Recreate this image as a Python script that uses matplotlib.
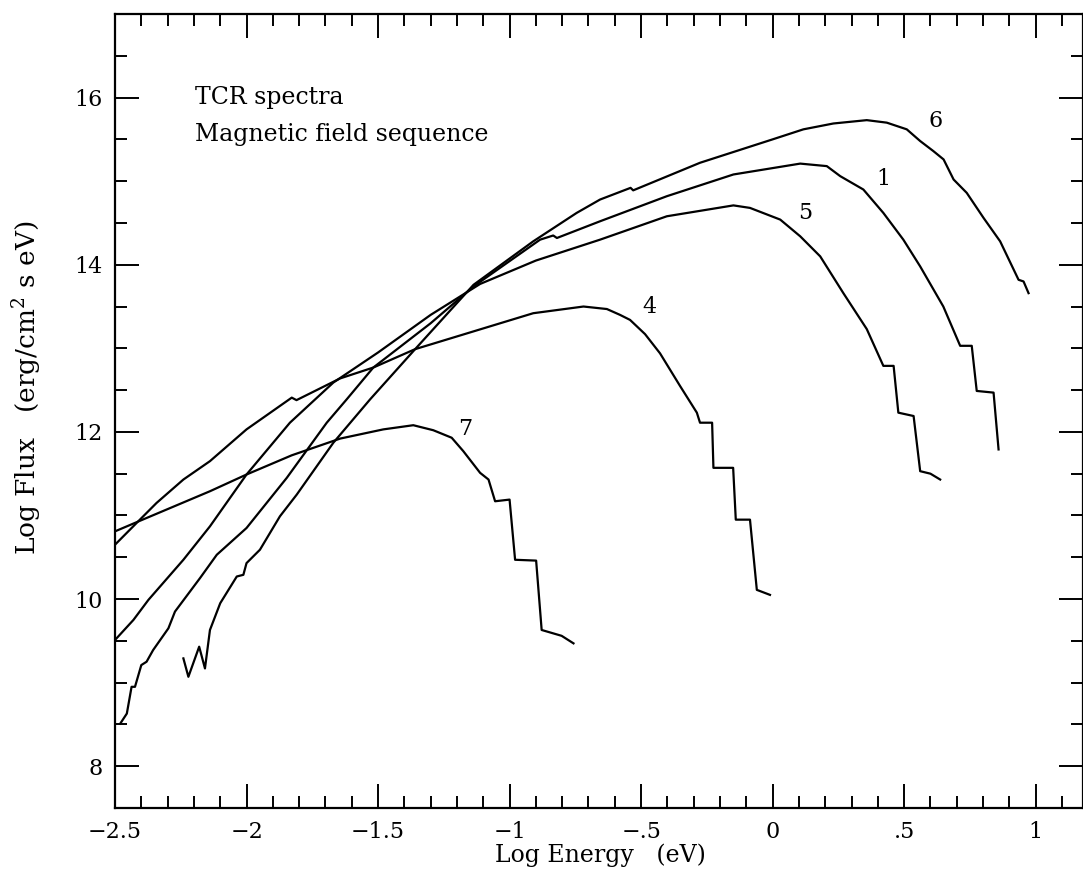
import numpy as np
import matplotlib
matplotlib.use("Agg")
import matplotlib.pyplot as plt
from matplotlib.ticker import MultipleLocator

plt.rcParams['font.family'] = ['DejaVu Serif']
plt.rcParams['mathtext.fontset'] = 'dejavuserif'

# curve 7
x7 = [-2.5, -2.41, -2.139, -2.0, -1.828, -1.644, -1.48, -1.366, -1.29, -1.22, -1.176,
      -1.112, -1.08, -1.055, -1.0, -0.979, -0.899, -0.878, -0.802, -0.757]
y7 = [10.81, 10.93, 11.29, 11.49, 11.72, 11.92, 12.03, 12.08, 12.02, 11.93, 11.77,
      11.51, 11.43, 11.17, 11.19, 10.47, 10.46, 9.63, 9.56, 9.47]

# curve 4
x4 = [-2.5, -2.418, -2.342, -2.24, -2.139, -2.0, -1.828, -1.81, -1.644, -1.518, -1.359,
      -0.91, -0.719, -0.63, -0.58, -0.542, -0.485, -0.428, -0.352, -0.288, -0.276,
      -0.23, -0.225, -0.15, -0.14, -0.086, -0.06, -0.01]
y4 = [10.65, 10.91, 11.15, 11.43, 11.65, 12.03, 12.41, 12.38, 12.64, 12.77, 12.99,
      13.42, 13.50, 13.47, 13.40, 13.34, 13.17, 12.94, 12.55, 12.23, 12.11,
      12.11, 11.57, 11.57, 10.95, 10.95, 10.11, 10.05]

# curve 5
x5 = [-2.5, -2.43, -2.373, -2.24, -2.139, -2.0, -1.835, -1.67, -1.5, -1.3, -1.112,
      -0.9, -0.656, -0.402, -0.149, -0.086, 0.029, 0.105, 0.181, 0.269, 0.358, 0.421,
      0.46, 0.478, 0.536, 0.561, 0.6, 0.637]
y5 = [9.51, 9.75, 9.99, 10.47, 10.87, 11.49, 12.11, 12.59, 12.95, 13.40, 13.77,
      14.05, 14.30, 14.58, 14.71, 14.68, 14.54, 14.34, 14.10, 13.66, 13.23, 12.79,
      12.79, 12.23, 12.19, 11.53, 11.50, 11.43]

# curve 1
x1 = [-2.48, -2.455, -2.437, -2.424, -2.4, -2.38, -2.355, -2.297, -2.272, -2.177, -2.113,
      -2.0, -1.847, -1.695, -1.619, -1.518, -1.3, -1.137, -0.884, -0.834, -0.82, -0.656,
      -0.402, -0.149, 0.105, 0.206, 0.257, 0.345, 0.421, 0.497, 0.561, 0.649, 0.713,
      0.757, 0.776, 0.84, 0.859]
y1 = [8.51, 8.63, 8.95, 8.95, 9.21, 9.25, 9.39, 9.65, 9.85, 10.25, 10.53,
      10.85, 11.45, 12.11, 12.39, 12.77, 13.30, 13.74, 14.30, 14.35, 14.32, 14.52,
      14.82, 15.08, 15.21, 15.18, 15.06, 14.90, 14.62, 14.30, 13.98, 13.50, 13.03,
      13.03, 12.49, 12.47, 11.79]

# curve 6
x6 = [-2.24, -2.221, -2.18, -2.158, -2.139, -2.1, -2.037, -2.012, -2.0, -1.949, -1.873,
      -1.809, -1.67, -1.53, -1.359, -1.137, -0.91, -0.745, -0.656, -0.54, -0.53,
      -0.276, 0.0, 0.117, 0.231, 0.358, 0.434, 0.51, 0.561, 0.611, 0.65, 0.688,
      0.738, 0.802, 0.865, 0.935, 0.954, 0.973]
y6 = [9.29, 9.07, 9.43, 9.17, 9.63, 9.95, 10.27, 10.29, 10.43, 10.59, 10.99,
      11.25, 11.87, 12.39, 12.99, 13.76, 14.28, 14.62, 14.78, 14.92, 14.89,
      15.22, 15.50, 15.62, 15.69, 15.73, 15.70, 15.62, 15.48, 15.36, 15.26, 15.02,
      14.86, 14.56, 14.28, 13.82, 13.80, 13.66]

curve_names = ['6', '1', '5', '4', '7']
label_x = [0.618, 0.421, 0.124, -0.469, -1.169]
label_y = [15.72, 15.02, 14.62, 13.50, 12.03]

x_ticks = [-2.5, -2, -1.5, -1, -0.5, 0, 0.5, 1]
x_ticklabels = ['\u22122.5', '\u22122', '\u22121.5', '\u22121', '\u2212.5', '0', '.5', '1']
y_ticks = [8, 10, 12, 14, 16]

fig = plt.figure(figsize=(10.83, 8.73), dpi=100)
ax = fig.add_axes([115/1083, 1-808/873, 968/1083, 794/873])

for xs, ys in [(x7, y7), (x4, y4), (x5, y5), (x1, y1), (x6, y6)]:
    ax.plot(xs, ys, color='black', lw=1.6)

for name, lx, ly in zip(curve_names, label_x, label_y):
    ax.text(lx, ly, name, fontsize=16, ha='center', va='center')

ax.text(-2.196, 16.0, 'TCR spectra', fontsize=17, ha='left', va='center')
ax.text(-2.196, 15.56, 'Magnetic field sequence', fontsize=17, ha='left', va='center')

ax.set_xlim(-2.5, 1.18)
ax.set_ylim(7.5, 17.0)
ax.set_xticks(x_ticks)
ax.set_xticklabels(x_ticklabels)
ax.set_yticks(y_ticks)
ax.xaxis.set_minor_locator(MultipleLocator(0.1))
ax.yaxis.set_minor_locator(MultipleLocator(0.5))
ax.tick_params(which='both', direction='in', top=True, right=True, width=1.4)
ax.tick_params(which='major', length=17, labelsize=16, pad=9)
ax.tick_params(which='minor', length=8.5)
for s in ax.spines.values():
    s.set_linewidth(1.6)

fig.text(600/1083, 1-855/873, 'Log Energy   (eV)', fontsize=17, ha='center', va='center')
fig.text(27/1083, 1-388/873, 'Log Flux   (erg/cm$^2$ s eV)', fontsize=19,
         ha='center', va='center', rotation=90)

fig.savefig('out.png', dpi=100)
